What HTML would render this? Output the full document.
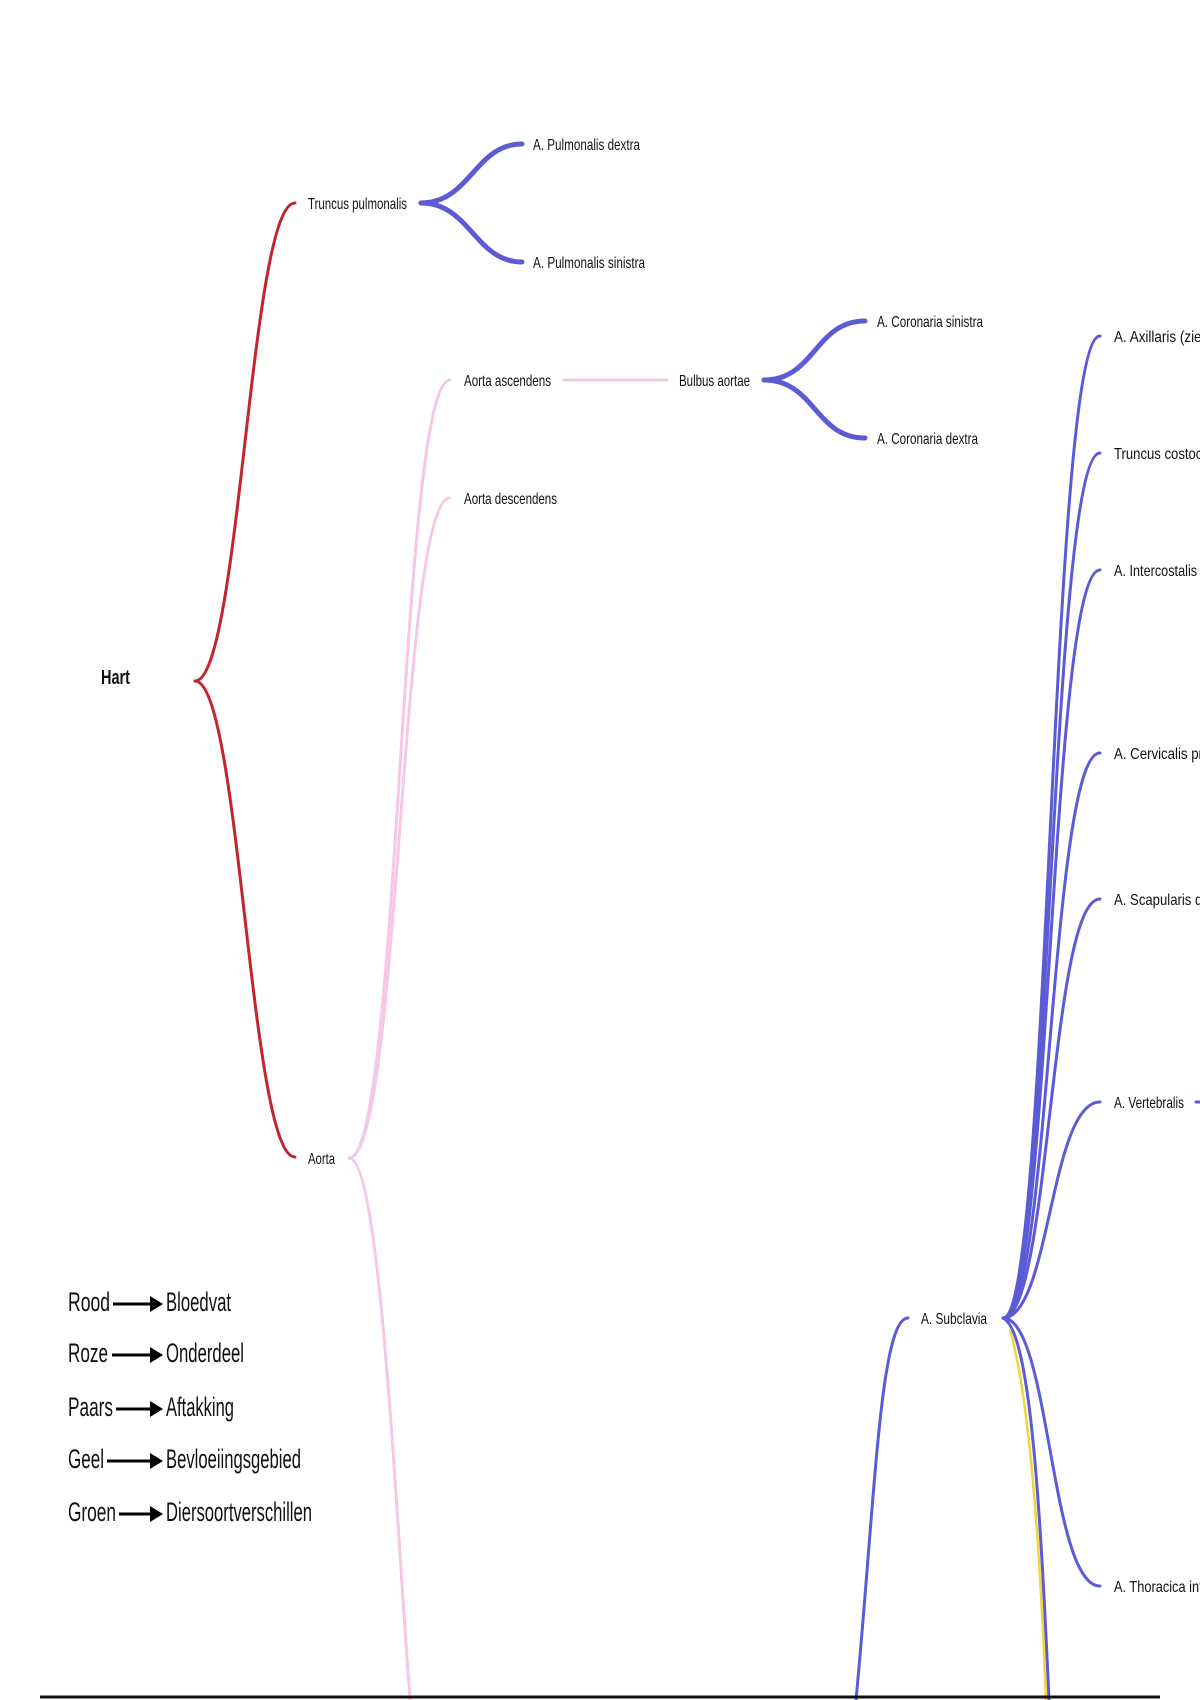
<!DOCTYPE html>
<html><head><meta charset="utf-8"><style>
html,body{margin:0;padding:0;background:#fff;width:1200px;height:1700px;overflow:hidden}
svg{display:block}
text{font-family:"Liberation Sans",sans-serif;fill:#111}
.l{font-size:16px}
.g{font-size:27px}
</style></head><body>
<svg width="1200" height="1700" viewBox="0 0 1200 1700" xmlns="http://www.w3.org/2000/svg">
<g fill="none" stroke-linecap="round">
<!-- red -->
<path d="M195 681 C240 681,250 203,295 203" stroke="#c0262c" stroke-width="3"/>
<path d="M195 681 C240 681,250 1157,295 1157" stroke="#c0262c" stroke-width="3"/>
<!-- blue pulmonalis -->
<path d="M421 203 C470 203,475 144,522 144" stroke="#5b5bd6" stroke-width="5"/>
<path d="M421 203 C470 203,475 262,522 262" stroke="#5b5bd6" stroke-width="5"/>
<!-- pink -->
<path d="M349 1158 C400 1158,400 380,450 380" stroke="#f7c8e4" stroke-width="3"/>
<path d="M349 1158 C400 1158,400 498,450 498" stroke="#f7c8e4" stroke-width="3"/>
<path d="M349 1158 C380 1158,395 1500,410 1700" stroke="#f7c8e4" stroke-width="3"/>
<path d="M564 380 L667 380" stroke="#f7c8e4" stroke-width="3"/>
<!-- coronaria -->
<path d="M764 380 C815 380,815 321,865 321" stroke="#5b5bd6" stroke-width="5"/>
<path d="M764 380 C815 380,815 438,865 438" stroke="#5b5bd6" stroke-width="5"/>
<!-- subclavia -->
<path d="M856 1700 C875 1500,880 1318,908 1318" stroke="#5b5bd6" stroke-width="3"/>
<g stroke="#5b5bd6" stroke-width="3">
<path d="M1003 1318 C1050 1318,1050 336,1100 336"/>
<path d="M1003 1318 C1050 1318,1050 453,1100 453"/>
<path d="M1003 1318 C1050 1318,1050 570,1100 570"/>
<path d="M1003 1318 C1050 1318,1050 753,1100 753"/>
<path d="M1003 1318 C1050 1318,1050 899,1100 899"/>
<path d="M1003 1318 C1050 1318,1050 1102,1100 1102"/>
<path d="M1003 1318 C1050 1318,1050 1586,1100 1586"/>
<path d="M1003 1318 C1030 1330,1040 1500,1049 1700"/>
<path d="M1196 1102 L1200 1102"/>
</g>
<path d="M1010 1330 C1030 1400,1040 1550,1046 1700" stroke="#f2d43c" stroke-width="2.5"/>
</g>
<line x1="40" y1="1697" x2="1160" y2="1697" stroke="#111" stroke-width="3"/>
<!-- labels -->
<text x="101" y="684" font-size="20" font-weight="bold" textLength="29" lengthAdjust="spacingAndGlyphs">Hart</text>
<text class="l" x="308" y="209" textLength="99" lengthAdjust="spacingAndGlyphs">Truncus pulmonalis</text>
<text class="l" x="533" y="150" textLength="107" lengthAdjust="spacingAndGlyphs">A. Pulmonalis dextra</text>
<text class="l" x="533" y="268" textLength="112" lengthAdjust="spacingAndGlyphs">A. Pulmonalis sinistra</text>
<text class="l" x="308" y="1164" textLength="27" lengthAdjust="spacingAndGlyphs">Aorta</text>
<text class="l" x="464" y="386" textLength="87" lengthAdjust="spacingAndGlyphs">Aorta ascendens</text>
<text class="l" x="464" y="504" textLength="93" lengthAdjust="spacingAndGlyphs">Aorta descendens</text>
<text class="l" x="679" y="386" textLength="71" lengthAdjust="spacingAndGlyphs">Bulbus aortae</text>
<text class="l" x="877" y="327" textLength="106" lengthAdjust="spacingAndGlyphs">A. Coronaria sinistra</text>
<text class="l" x="877" y="444" textLength="101" lengthAdjust="spacingAndGlyphs">A. Coronaria dextra</text>
<text class="l" x="921" y="1324" textLength="66" lengthAdjust="spacingAndGlyphs">A. Subclavia</text>
<text class="l" x="1114" y="342" textLength="110" lengthAdjust="spacingAndGlyphs">A. Axillaris (zie me</text>
<text class="l" x="1114" y="459" textLength="100" lengthAdjust="spacingAndGlyphs">Truncus costocer</text>
<text class="l" x="1114" y="576" textLength="100" lengthAdjust="spacingAndGlyphs">A. Intercostalis su</text>
<text class="l" x="1114" y="759" textLength="100" lengthAdjust="spacingAndGlyphs">A. Cervicalis prof</text>
<text class="l" x="1114" y="905" textLength="100" lengthAdjust="spacingAndGlyphs">A. Scapularis dor</text>
<text class="l" x="1114" y="1108" textLength="70" lengthAdjust="spacingAndGlyphs">A. Vertebralis</text>
<text class="l" x="1114" y="1592" textLength="100" lengthAdjust="spacingAndGlyphs">A. Thoracica inter</text>
<!-- legend -->
<g>
<text class="g" x="68" y="1311" textLength="42" lengthAdjust="spacingAndGlyphs">Rood</text>
<text class="g" x="166" y="1311" textLength="65" lengthAdjust="spacingAndGlyphs">Bloedvat</text>
<text class="g" x="68" y="1362" textLength="40" lengthAdjust="spacingAndGlyphs">Roze</text>
<text class="g" x="166" y="1362" textLength="78" lengthAdjust="spacingAndGlyphs">Onderdeel</text>
<text class="g" x="68" y="1416" textLength="45" lengthAdjust="spacingAndGlyphs">Paars</text>
<text class="g" x="166" y="1416" textLength="68" lengthAdjust="spacingAndGlyphs">Aftakking</text>
<text class="g" x="68" y="1468" textLength="36" lengthAdjust="spacingAndGlyphs">Geel</text>
<text class="g" x="166" y="1468" textLength="135" lengthAdjust="spacingAndGlyphs">Bevloeiingsgebied</text>
<text class="g" x="68" y="1521" textLength="48" lengthAdjust="spacingAndGlyphs">Groen</text>
<text class="g" x="166" y="1521" textLength="146" lengthAdjust="spacingAndGlyphs">Diersoortverschillen</text>
<g stroke="#000" stroke-width="3">
<line x1="113" y1="1304" x2="152" y2="1304"/>
<line x1="112" y1="1355" x2="152" y2="1355"/>
<line x1="116" y1="1409" x2="152" y2="1409"/>
<line x1="107" y1="1461" x2="152" y2="1461"/>
<line x1="119" y1="1514" x2="152" y2="1514"/>
</g>
<g fill="#000">
<polygon points="150,1296 163,1304 150,1312"/>
<polygon points="150,1347 163,1355 150,1363"/>
<polygon points="150,1401 163,1409 150,1417"/>
<polygon points="150,1453 163,1461 150,1469"/>
<polygon points="150,1506 163,1514 150,1522"/>
</g>
</g>
</svg>
</body></html>
